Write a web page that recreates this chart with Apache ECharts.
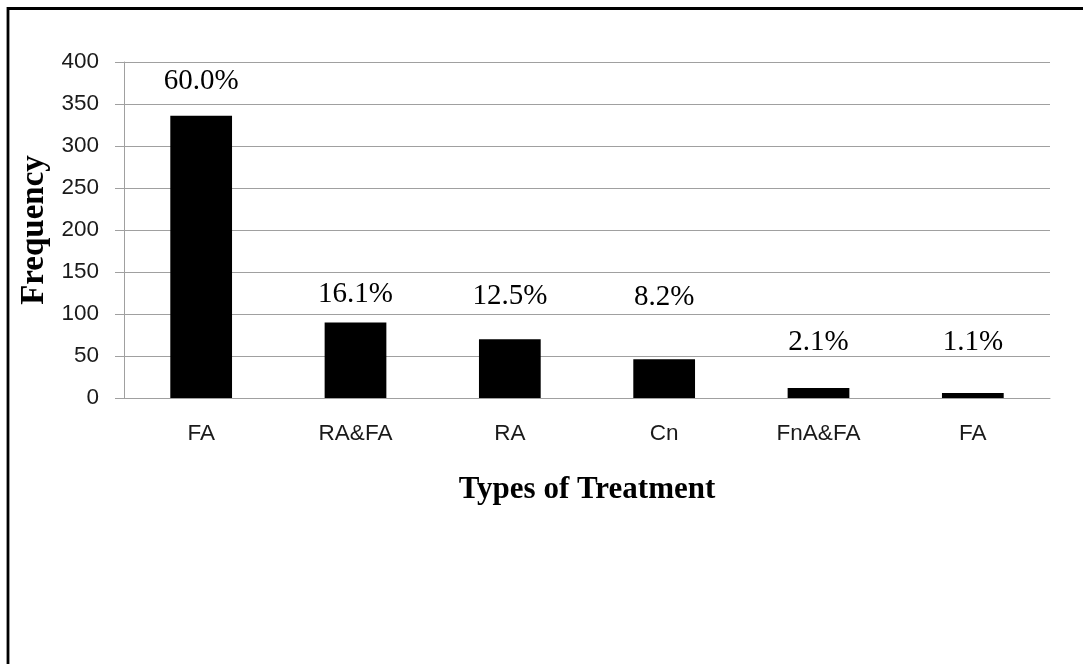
<!DOCTYPE html>
<html>
<head>
<meta charset="utf-8">
<title>Types of Treatment</title>
<script src="https://cdn.jsdelivr.net/npm/echarts@6/dist/echarts.min.js"></script>
<style>
  html, body { margin: 0; padding: 0; background: #fff; }
  #chart { width: 1083px; height: 664px; }
</style>
</head>
<body>
<div id="chart"></div>
<script>
// Treatment categories and their frequencies
const categories = ['FA', 'RA&FA', 'RA', 'Cn', 'FnA&FA', 'FA'];
const frequencies = [336, 90, 70, 46, 12, 6];
const yTicks = [0, 50, 100, 150, 200, 250, 300, 350, 400];

// Distance (px) of each percentage label above its bar
const labelLift = [19, 13, 28, 47, 31, 36];

const total = frequencies.reduce((a, b) => a + b, 0);

const chart = echarts.init(document.getElementById('chart'), null, { renderer: 'canvas' });

const serif = '"Liberation Serif", "Times New Roman", serif';
const sans = '"Liberation Sans", Arial, sans-serif';
const gridColor = '#a0a0a0';

chart.setOption({
  animation: false,
  backgroundColor: '#ffffff',
  grid: { left: 124, right: 33, top: 62, bottom: 266, containLabel: false },
  graphic: [{
    type: 'polyline',
    shape: { points: [[8, 664], [8, 8.5], [1083, 8.5]] },
    style: { stroke: '#000', lineWidth: 2.8, fill: null }
  }],
  xAxis: {
    type: 'category',
    data: categories,
    axisLine: { show: true, lineStyle: { color: gridColor, width: 1 } },
    axisTick: { show: false },
    axisLabel: { fontFamily: sans, fontSize: 22.5, color: '#1a1a1a', margin: 24 },
    name: 'Types of Treatment',
    nameLocation: 'middle',
    nameGap: 76,
    nameTextStyle: { fontFamily: serif, fontSize: 31, fontWeight: 'bold', color: '#000' }
  },
  yAxis: {
    type: 'value',
    min: yTicks[0],
    max: yTicks[yTicks.length - 1],
    interval: yTicks[1] - yTicks[0],
    axisLine: { show: true, lineStyle: { color: gridColor, width: 1 } },
    axisTick: { show: true, inside: false, length: 9, lineStyle: { color: gridColor } },
    splitLine: { show: true, lineStyle: { color: gridColor, width: 1 } },
    axisLabel: { fontFamily: sans, fontSize: 22.5, color: '#1a1a1a', margin: 25 },
    name: 'Frequency',
    nameLocation: 'middle',
    nameGap: 72,
    nameRotate: 90,
    nameTextStyle: { fontFamily: serif, fontSize: 33, fontWeight: 'bold', color: '#000' }
  },
  series: [{
    type: 'bar',
    barWidth: '40%',
    itemStyle: { color: '#000' },
    data: frequencies.map((v, i) => ({
      value: v,
      label: {
        show: true,
        position: 'top',
        distance: labelLift[i],
        formatter: () => (v / total * 100).toFixed(1) + '%',
        fontFamily: serif,
        fontSize: 29,
        lineHeight: 30,
        color: '#000'
      }
    }))
  }]
});
</script>
</body>
</html>
